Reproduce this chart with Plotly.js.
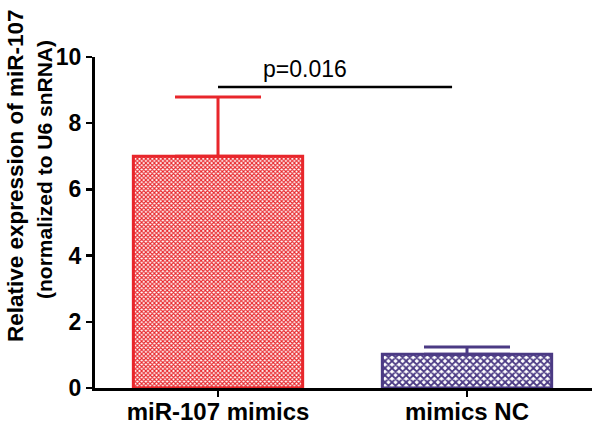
<!DOCTYPE html>
<html>
<head>
<meta charset="utf-8">
<script src="https://cdn.plot.ly/plotly-3.0.1.min.js"></script>
<style>html,body{margin:0;padding:0;background:#fff;}#chart{width:600px;height:425px;}</style>
</head>
<body>
<div id="chart"></div>
<script>
const categories = ["miR-107 mimics", "mimics NC"];
const means = [7.0, 1.02];
const errorsUp = [1.79, 0.22];
const barColors = ["#e8262b", "#4b3a84"];
const sigLabel = "p=0.016";
const sigLineX = [0.0, 0.94];
const sigLineY = 9.09;
const yTicks = [0, 2, 4, 6, 8, 10];
const yTitleLines = ["Relative expression of miR-107", "(normalized to U6 snRNA)"];

const font = "Liberation Sans, Arial, sans-serif";

const patterns = [
  {shape: "x", fgcolor: barColors[0], bgcolor: "#ffffff", size: 3, solidity: 0.6, fillmode: "replace"},
  {shape: "x", fgcolor: barColors[1], bgcolor: "#ffffff", size: 5, solidity: 0.6, fillmode: "replace"}
];

const traces = categories.map((c, i) => ({
  type: "bar",
  x: [c],
  y: [means[i]],
  width: 0.68,
  marker: {
    color: barColors[i],
    pattern: patterns[i],
    line: {color: barColors[i], width: 3}
  },
  error_y: {
    type: "data", symmetric: false,
    array: [errorsUp[i]], arrayminus: [0],
    color: barColors[i], thickness: 3, width: 43
  },
  showlegend: false,
  hoverinfo: "skip"
}));

const layout = {
  width: 600, height: 425,
  margin: {l: 95, r: 8, t: 57, b: 37},
  paper_bgcolor: "#fff", plot_bgcolor: "#fff",
  barmode: "overlay",
  font: {family: font, color: "#000"},
  xaxis: {
    type: "category",
    range: [-0.494, 1.502],
    showline: true, linewidth: 3, linecolor: "#000",
    ticks: "outside", ticklen: 6, tickwidth: 2.5, tickcolor: "#000",
    ticklabelstandoff: -6,
    tickfont: {family: font, size: 24, color: "#000", weight: "bold"},
    showgrid: false, zeroline: false
  },
  yaxis: {
    range: [0, 10],
    tickvals: yTicks,
    showline: true, linewidth: 3, linecolor: "#000",
    ticks: "outside", ticklen: 6, tickwidth: 2.5, tickcolor: "#000",
    tickfont: {family: font, size: 23, color: "#000", weight: "bold"},
    showgrid: false, zeroline: false
  },
  shapes: [{
    type: "line", xref: "x", yref: "y",
    x0: sigLineX[0], x1: sigLineX[1], y0: sigLineY, y1: sigLineY,
    line: {color: "#000", width: 2.5}
  }],
  annotations: [
    {
      xref: "x", yref: "y",
      x: 0.35, y: sigLineY, yanchor: "bottom", yshift: 3,
      text: sigLabel, showarrow: false,
      font: {family: font, size: 23, color: "#000"}
    },
    {
      xref: "paper", yref: "paper",
      x: (15 - 95) / 497, y: (388 - 176) / 331,
      xanchor: "center", yanchor: "middle", textangle: -90,
      text: yTitleLines[0], showarrow: false,
      font: {family: font, size: 22.5, color: "#000", weight: "bold"}
    },
    {
      xref: "paper", yref: "paper",
      x: (44 - 95) / 497, y: (388 - 170) / 331,
      xanchor: "center", yanchor: "middle", textangle: -90,
      text: yTitleLines[1], showarrow: false,
      font: {family: font, size: 21, color: "#000", weight: "bold"}
    }
  ]
};

Plotly.newPlot("chart", traces, layout, {displayModeBar: false, staticPlot: true});
</script>
</body>
</html>
